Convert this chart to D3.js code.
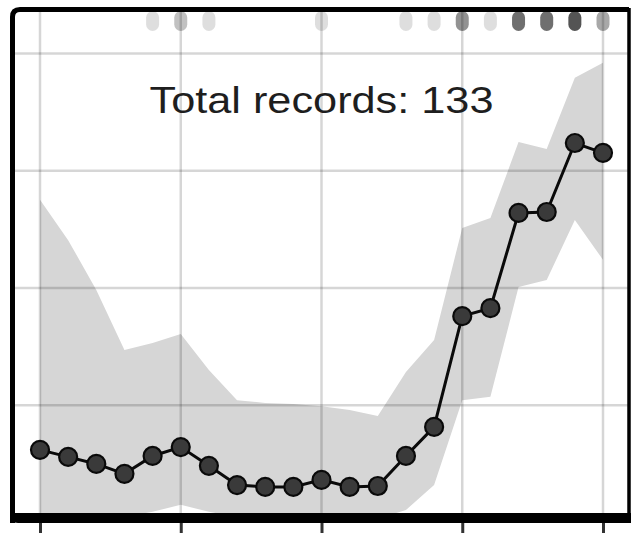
<!DOCTYPE html>
<html>
<head>
<meta charset="utf-8">
<script src="https://cdn.jsdelivr.net/npm/d3@7"></script>
<style>
	body { margin: 0; background: #fff; }
	svg { display: block; }
</style>
</head>
<body>
<svg id="chart" width="631" height="533"></svg>
<script>
// values (y in percent of the grid span)
const steps = d3.range(0, 21);
const meanValues = [15.5, 14.0, 12.5, 10.4, 14.2, 16.1, 12.1, 8.0, 7.6, 7.6, 9.1, 7.6, 7.8, 14.2, 20.4, 44.0, 45.7, 66.0, 66.2, 80.9, 78.8];
const upperValues = [68.8, 60.2, 49.6, 36.8, 38.3, 40.2, 32.5, 26.1, 25.5, 25.3, 24.8, 24.0, 22.7, 32.1, 38.9, 62.8, 64.9, 81.1, 79.6, 94.8, 98.0];
const lowerValues = [0.6, 0.6, 0.8, 1.2, 2.3, 3.8, 2.3, 1.2, 0.8, 0.6, 0.6, 0.6, 0.8, 2.7, 8.0, 26.1, 26.8, 50.2, 51.7, 64.5, 56.0];
const rugSteps = [4, 5, 6, 10, 13, 14, 15, 16, 17, 18, 19, 20];
const rugCounts = [1, 2, 1, 1, 1, 1, 4, 1, 6, 6, 8, 3];
const xTicks = [0, 5, 10, 15, 20];
const yGrid = [25, 50, 75, 100];
const totalRecords = 133;

const svg = d3.select("#chart");

const x = d3.scaleLinear().domain([0, 20]).range([40, 603]);
const y = d3.scaleLinear().domain([0, 100]).range([522.6, 53.4]);

const panel = {left: 15, top: 11, right: 628, bottom: 514};

svg.append("clipPath").attr("id", "panelClip")
	.append("rect")
	.attr("x", panel.left).attr("y", panel.top)
	.attr("width", panel.right - panel.left)
	.attr("height", panel.bottom - panel.top);

const g = svg.append("g").attr("clip-path", "url(#panelClip)");

// ribbon
const band = d3.area()
	.x((d, i) => x(steps[i]))
	.y0((d, i) => y(lowerValues[i]))
	.y1((d, i) => y(upperValues[i]));

g.append("path")
	.datum(steps)
	.attr("d", band)
	.attr("fill", "#d6d6d6");

// grid
g.selectAll(".vgrid").data(xTicks).join("line")
	.attr("x1", d => x(d)).attr("x2", d => x(d))
	.attr("y1", panel.top).attr("y2", panel.bottom)
	.attr("stroke", "rgba(0,0,0,0.16)")
	.attr("stroke-width", 2.5);

g.selectAll(".hgrid").data(yGrid).join("line")
	.attr("x1", panel.left).attr("x2", panel.right)
	.attr("y1", d => y(d)).attr("y2", d => y(d))
	.attr("stroke", "rgba(0,0,0,0.16)")
	.attr("stroke-width", 2.5);

// rug at the top
g.selectAll(".rug").data(rugSteps).join("rect")
	.attr("x", d => x(d) - 6.5)
	.attr("y", 11)
	.attr("width", 13)
	.attr("height", 20)
	.attr("rx", 6.5)
	.attr("fill", "#000")
	.attr("fill-opacity", (d, i) => 1 - Math.pow(0.87, rugCounts[i]));

// label
g.append("text")
	.attr("x", 321.5)
	.attr("y", 113)
	.attr("text-anchor", "middle")
	.attr("font-family", "Liberation Sans, Arial, sans-serif")
	.attr("font-size", 36)
	.attr("textLength", 344)
	.attr("lengthAdjust", "spacingAndGlyphs")
	.attr("fill", "#1e1e1e")
	.text(`Total records: ${totalRecords}`);

// mean line and points
const line = d3.line()
	.x((d, i) => x(steps[i]))
	.y((d, i) => y(meanValues[i]));

g.append("path")
	.datum(steps)
	.attr("d", line)
	.attr("fill", "none")
	.attr("stroke", "#0a0a0a")
	.attr("stroke-width", 3);

g.selectAll(".pt").data(steps).join("circle")
	.attr("cx", d => x(d))
	.attr("cy", (d, i) => y(meanValues[i]))
	.attr("r", 9)
	.attr("fill", "#3a3a3a")
	.attr("stroke", "#0a0a0a")
	.attr("stroke-width", 2.2);

// frame
svg.append("path")
	.attr("d", `M12.5,523 L12.5,17 Q12.5,9.5 20,9.5 L629,9.5`)
	.attr("fill", "none")
	.attr("stroke", "#000")
	.attr("stroke-width", 5);

svg.append("line")
	.attr("x1", 629).attr("x2", 629)
	.attr("y1", 8).attr("y2", 518)
	.attr("stroke", "#000")
	.attr("stroke-width", 3.5);

// bottom axis
const xAxis = d3.axisBottom(x)
	.tickValues(xTicks)
	.tickSize(15)
	.tickSizeOuter(0)
	.tickFormat("");

const ax = svg.append("g")
	.attr("transform", "translate(0,518)")
	.call(xAxis);

ax.select(".domain").remove();
ax.selectAll(".tick line")
	.attr("stroke", "#333")
	.attr("stroke-width", 3);

svg.append("path")
	.attr("d", "M10,513 L631,513 L631,523 L18,523 Q10,523 10,515 Z")
	.attr("fill", "#000");
</script>
</body>
</html>
